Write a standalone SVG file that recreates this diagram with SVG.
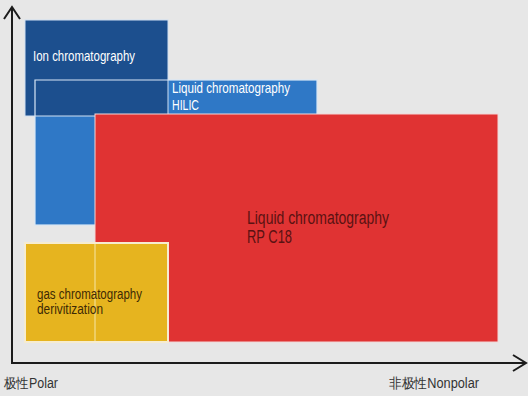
<svg xmlns="http://www.w3.org/2000/svg" width="528" height="396" viewBox="0 0 528 396">
<style>
.t{font-family:"Liberation Sans",Arial,sans-serif;}
.axis{stroke:#1c1c1c;stroke-width:2;fill:none;}
.edge{fill:none;stroke:#d8e6f5;stroke-width:1.2;}
</style>
<rect x="0" y="0" width="528" height="396" fill="#e7e7e7"/>
<g id="hilic">
<rect x="35" y="80" width="282" height="145" fill="#2f78c6" stroke="#d8e6f5" stroke-width="1.2"/>
</g>
<g id="ion">
<rect x="25" y="20" width="143" height="96" fill="#1c4f8e" stroke="#cfe0f2" stroke-width="1"/>
<polyline class="edge" points="35,116 35,80 168,80"/>
<text class="t" x="33" y="61" font-size="14.5" fill="#ffffff" textLength="102" lengthAdjust="spacingAndGlyphs">Ion chromatography</text>
</g>
<g id="hilic-label">
<text class="t" x="172" y="93" font-size="14.5" fill="#ffffff" textLength="118" lengthAdjust="spacingAndGlyphs">Liquid chromatography</text>
<text class="t" x="172" y="110" font-size="14.5" fill="#ffffff" textLength="27" lengthAdjust="spacingAndGlyphs">HILIC</text>
</g>
<g id="rp">
<rect x="95" y="114" width="403" height="228" fill="#e03333" stroke="#f3d8d8" stroke-width="1"/>
<text class="t" x="247" y="224" font-size="18" fill="#5a1212" textLength="142" lengthAdjust="spacingAndGlyphs">Liquid chromatography</text>
<text class="t" x="247" y="243" font-size="18" fill="#5a1212" textLength="45" lengthAdjust="spacingAndGlyphs">RP C18</text>
</g>
<g id="gc">
<rect x="25" y="243" width="143" height="99" fill="#e6b41f" stroke="#f6ecd0" stroke-width="2"/>
<line x1="95" y1="244" x2="95" y2="341" stroke="#f6e6a8" stroke-width="1"/>
<text class="t" x="37" y="299" font-size="14" fill="#3d2a05" textLength="105" lengthAdjust="spacingAndGlyphs">gas chromatography</text>
<text class="t" x="37" y="314" font-size="14" fill="#3d2a05" textLength="66" lengthAdjust="spacingAndGlyphs">derivitization</text>
</g>
<g id="axes">
<polyline class="axis" points="12,8 12,363 525,363"/>
<polyline class="axis" points="4,19 12,7 20,19"/>
<polyline class="axis" points="513,355 526,363 513,371"/>
</g>
<g id="axis-labels">
<text class="t" x="4" y="388" font-size="14" fill="#333333" font-family="'Liberation Sans','Noto Sans CJK SC',sans-serif" textLength="54" lengthAdjust="spacingAndGlyphs">极性Polar</text>
<text class="t" x="389" y="388" font-size="14" fill="#333333" font-family="'Liberation Sans','Noto Sans CJK SC',sans-serif" textLength="90" lengthAdjust="spacingAndGlyphs">非极性Nonpolar</text>
</g>
</svg>
